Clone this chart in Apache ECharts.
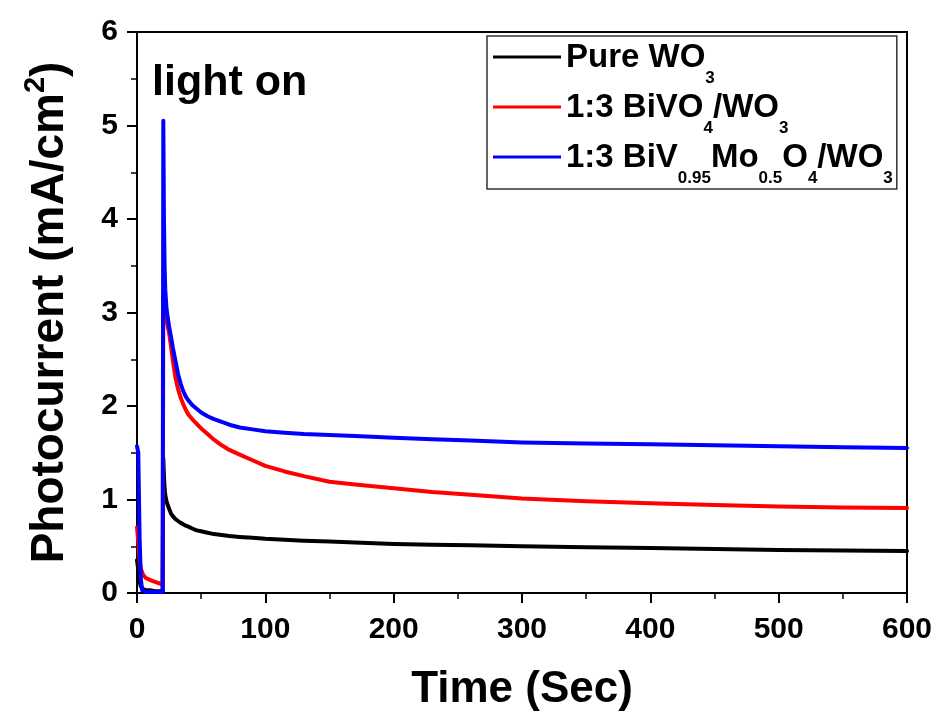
<!DOCTYPE html>
<html>
<head>
<meta charset="utf-8">
<script src="https://cdn.jsdelivr.net/npm/echarts@6/dist/echarts.min.js"></script>
<style>html,body{margin:0;padding:0;background:#fff}#c{width:939px;height:717px}</style>
</head>
<body>
<div id="c"></div>
<script>
const times = [0, 1, 2, 3, 4, 5, 7, 10, 14, 18,
  20, 20.5, 21, 21.5, 22, 23, 24, 25, 26.5, 28,
  30, 32, 34, 36, 38, 40, 43, 46.5, 50, 55,
  60, 66, 72, 80, 90, 100, 115, 130, 150, 170,
  200, 230, 260, 300, 350, 400, 450, 500, 550, 600];
const pureWO3 = [0.35, 0.25, 0.12, 0.07, 0.05, 0.04, 0.03, 0.03, 0.02, 0.02,
  0.02, 1.44, 1.25, 1.12, 1.05, 0.98, 0.94, 0.90, 0.85, 0.82,
  0.79, 0.77, 0.75, 0.735, 0.72, 0.71, 0.69, 0.67, 0.66, 0.645,
  0.63, 0.62, 0.61, 0.60, 0.59, 0.58, 0.57, 0.56, 0.55, 0.54,
  0.525, 0.515, 0.51, 0.50, 0.49, 0.48, 0.47, 0.46, 0.455, 0.45];
const bivo4 = [0.7, 0.55, 0.35, 0.26, 0.22, 0.19, 0.16, 0.14, 0.12, 0.10,
  0.09, 3.18, 3.1, 3.04, 3.0, 2.92, 2.85, 2.78, 2.64, 2.48,
  2.3, 2.18, 2.09, 2.02, 1.96, 1.91, 1.86, 1.81, 1.76, 1.70,
  1.64, 1.58, 1.53, 1.48, 1.42, 1.36, 1.30, 1.25, 1.19, 1.16,
  1.12, 1.08, 1.05, 1.01, 0.98, 0.96, 0.94, 0.925, 0.915, 0.91];
const bivmo = [1.57, 1.5, 0.6, 0.15, 0.03, 0.01, 0.01, 0.01, 0.01, 0.01,
  0.01, 5.05, 4.0, 3.5, 3.25, 3.04, 2.94, 2.85, 2.74, 2.62,
  2.48, 2.34, 2.24, 2.16, 2.10, 2.06, 2.01, 1.97, 1.93, 1.89,
  1.86, 1.83, 1.80, 1.77, 1.75, 1.73, 1.715, 1.70, 1.69, 1.68,
  1.66, 1.645, 1.63, 1.61, 1.60, 1.59, 1.58, 1.57, 1.56, 1.55];
const seriesNames = ['Pure WO3', '1:3 BiVO4/WO3', '1:3 BiV0.95Mo0.5O4/WO3'];
const seriesColors = ['#000000', '#ff0000', '#0000ff'];
const legendRich = {
  'Pure WO3': '{m|Pure WO}{s|3}',
  '1:3 BiVO4/WO3': '{m|1:3 BiVO}{s|4}{m|/WO}{s|3}',
  '1:3 BiV0.95Mo0.5O4/WO3': '{m|1:3 BiV}{s|0.95}{m|Mo}{s|0.5}{m|O}{s|4}{m|/WO}{s|3}'
};
const xTicks = {min: 0, max: 600, interval: 100};
const yTicks = {min: 0, max: 6, interval: 1};

const FONT = 'Liberation Sans, Arial, sans-serif';
const chart = echarts.init(document.getElementById('c'));
const valueSets = [pureWO3, bivo4, bivmo];
chart.setOption({
  animation: false,
  backgroundColor: '#fff',
  grid: {left: 137, right: 32, top: 32, bottom: 122, show: true, borderColor: '#000', borderWidth: 2, backgroundColor: 'transparent'},
  legend: {
    orient: 'vertical', left: 487, top: 36,
    data: seriesNames,
    icon: 'rect', itemWidth: 68, itemHeight: 3, itemGap: 4,
    borderColor: '#333', borderWidth: 1.5, padding: [5, 4, 2, 6],
    formatter: n => legendRich[n],
    textStyle: {
      fontFamily: FONT, color: '#000',
      rich: {
        m: {fontSize: 33, fontWeight: 'bold', fontFamily: FONT, color: '#000', lineHeight: 32, verticalAlign: 'top'},
        s: {fontSize: 17, fontWeight: 'bold', fontFamily: FONT, color: '#000', lineHeight: 17, verticalAlign: 'top', padding: [29, 0, 0, 0]}
      }
    }
  },
  xAxis: {
    type: 'value', min: xTicks.min, max: xTicks.max, interval: xTicks.interval,
    name: 'Time (Sec)', nameLocation: 'middle', nameGap: 75,
    nameTextStyle: {fontSize: 44, fontWeight: 'bold', fontFamily: FONT, color: '#000'},
    axisLine: {show: true, lineStyle: {color: '#000', width: 2}},
    axisTick: {show: true, inside: false, length: 10, lineStyle: {color: '#000', width: 2}},
    minorTick: {show: true, splitNumber: 2, length: 6, lineStyle: {color: '#000', width: 1.5}},
    axisLabel: {fontSize: 30, fontWeight: 'bold', fontFamily: FONT, color: '#000', margin: 22},
    splitLine: {show: false}
  },
  yAxis: {
    type: 'value', min: yTicks.min, max: yTicks.max, interval: yTicks.interval,
    name: '{a|Photocurrent (mA/cm}{sup|2}{a|)}', nameLocation: 'middle', nameGap: 64, nameRotate: 90,
    nameTextStyle: {
      fontFamily: FONT, color: '#000',
      rich: {
        a: {fontSize: 46, fontWeight: 'bold', fontFamily: FONT, color: '#000', lineHeight: 52, verticalAlign: 'bottom'},
        sup: {fontSize: 29, fontWeight: 'bold', fontFamily: FONT, color: '#000', lineHeight: 52, verticalAlign: 'top', padding: [0, 0, 15, 0]}
      }
    },
    axisLine: {show: true, lineStyle: {color: '#000', width: 2}},
    axisTick: {show: true, inside: false, length: 10, lineStyle: {color: '#000', width: 2}},
    minorTick: {show: true, splitNumber: 2, length: 6, lineStyle: {color: '#000', width: 1.5}},
    axisLabel: {fontSize: 30, fontWeight: 'bold', fontFamily: FONT, color: '#000', margin: 19},
    splitLine: {show: false}
  },
  graphic: [{
    type: 'text', left: 152, top: 62,
    style: {text: 'light on', fontSize: 43, fontWeight: 'bold', fontFamily: FONT, fill: '#000'}
  }],
  series: seriesNames.map((n, k) => ({
    name: n, type: 'line', showSymbol: false, symbol: 'none',
    data: times.map((t, i) => [t, valueSets[k][i]]),
    lineStyle: {color: seriesColors[k], width: 4, join: 'round', cap: 'round'},
    itemStyle: {color: seriesColors[k]},
    smooth: false, z: 2 + k
  }))
});
</script>
</body>
</html>
